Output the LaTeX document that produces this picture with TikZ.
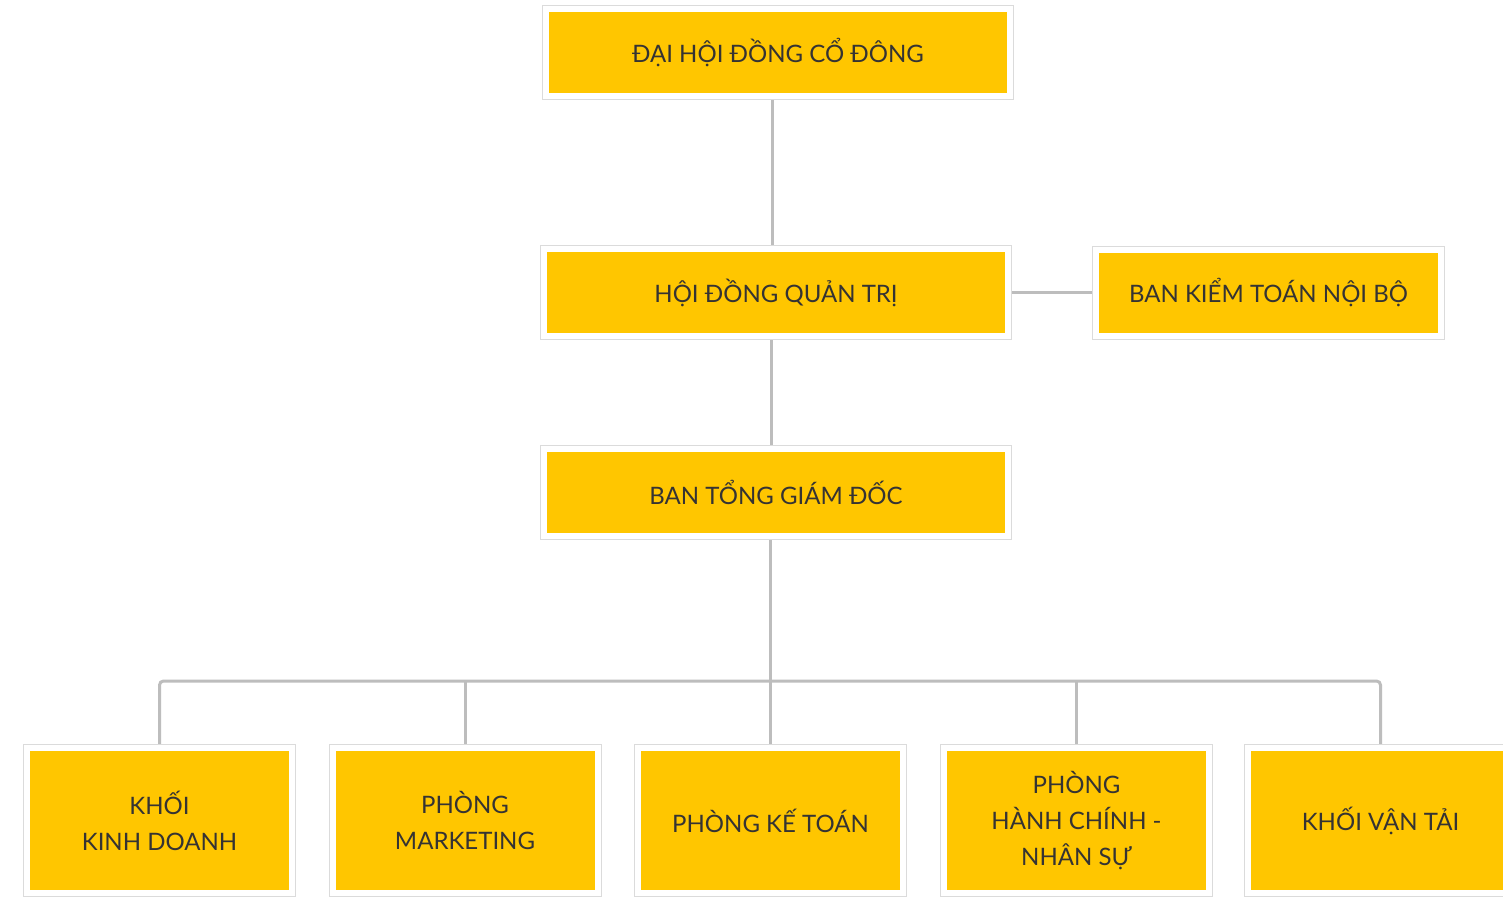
\documentclass[tikz,border=0pt]{standalone}
\usepackage{fontspec}
\setmainfont{Lato}
\usetikzlibrary{shadows,backgrounds}
\definecolor{boxyellow}{HTML}{FFC600}
\definecolor{txtgray}{HTML}{353333}
\definecolor{linegray}{HTML}{BDBDBD}
\begin{document}
\begin{tikzpicture}[x=1pt,y=-1pt,
  box/.style={fill=boxyellow, draw=white, line width=6pt,
    preaction={draw=black!14, line width=8pt},
    drop shadow={opacity=0.18, shadow xshift=2pt, shadow yshift=-2pt},
    text=txtgray, font=\fontsize{24}{36}\selectfont, align=center,
    inner sep=0pt, minimum height=87pt},
  wide/.style={box, minimum width=464pt},
  low/.style={box, minimum width=265pt, minimum height=145pt},
  conn/.style={draw=linegray, line width=3pt, rounded corners=4pt}]
\useasboundingbox (0,0) rectangle (1503,897);
\node[wide] (dhcd) at (778,52.5) {ĐẠI HỘI ĐỒNG CỔ ĐÔNG};
\node[wide] (hdqt) at (776,292.5) {HỘI ĐỒNG QUẢN TRỊ};
\node[box, minimum width=345pt, minimum height=86pt] (bktnb) at (1268.5,292.5) {BAN KIỂM TOÁN NỘI BỘ};
\node[wide] (btgd) at (776,492) {BAN TỔNG GIÁM ĐỐC};
\node[low] (kd) at (159.5,820.5) {KHỐI\\KINH DOANH};
\node[low] (mk) at (465,820.5) {PHÒNG\\MARKETING};
\node[low] (kt) at (770.5,820.5) {PHÒNG KẾ TOÁN};
\node[low] (hc) at (1076.5,820.5) {PHÒNG\\HÀNH CHÍNH -\\NHÂN SỰ};
\node[low] (vt) at (1380.5,820.5) {KHỐI VẬN TẢI};
\coordinate (bus) at (770,681);
\begin{scope}[on background layer]
\fill[white] (0,0) rectangle (1503,897);
\draw[conn] (dhcd.south -| 772,0) -- (hdqt.north -| 772,0);
\draw[conn] (hdqt.east) -- (hdqt.east -| bktnb.west);
\draw[conn] (hdqt.south -| 771,0) -- (btgd.north -| 771,0);
\draw[conn] (btgd.south -| bus) -- (bus);
\draw[conn] (kd.north) -- (kd.north |- bus) -- (vt.north |- bus) -- (vt.north);
\draw[conn] (mk.north) -- (mk.north |- bus);
\draw[conn] (kt.north) -- (kt.north |- bus);
\draw[conn] (hc.north) -- (hc.north |- bus);
\end{scope}
\end{tikzpicture}
\end{document}
